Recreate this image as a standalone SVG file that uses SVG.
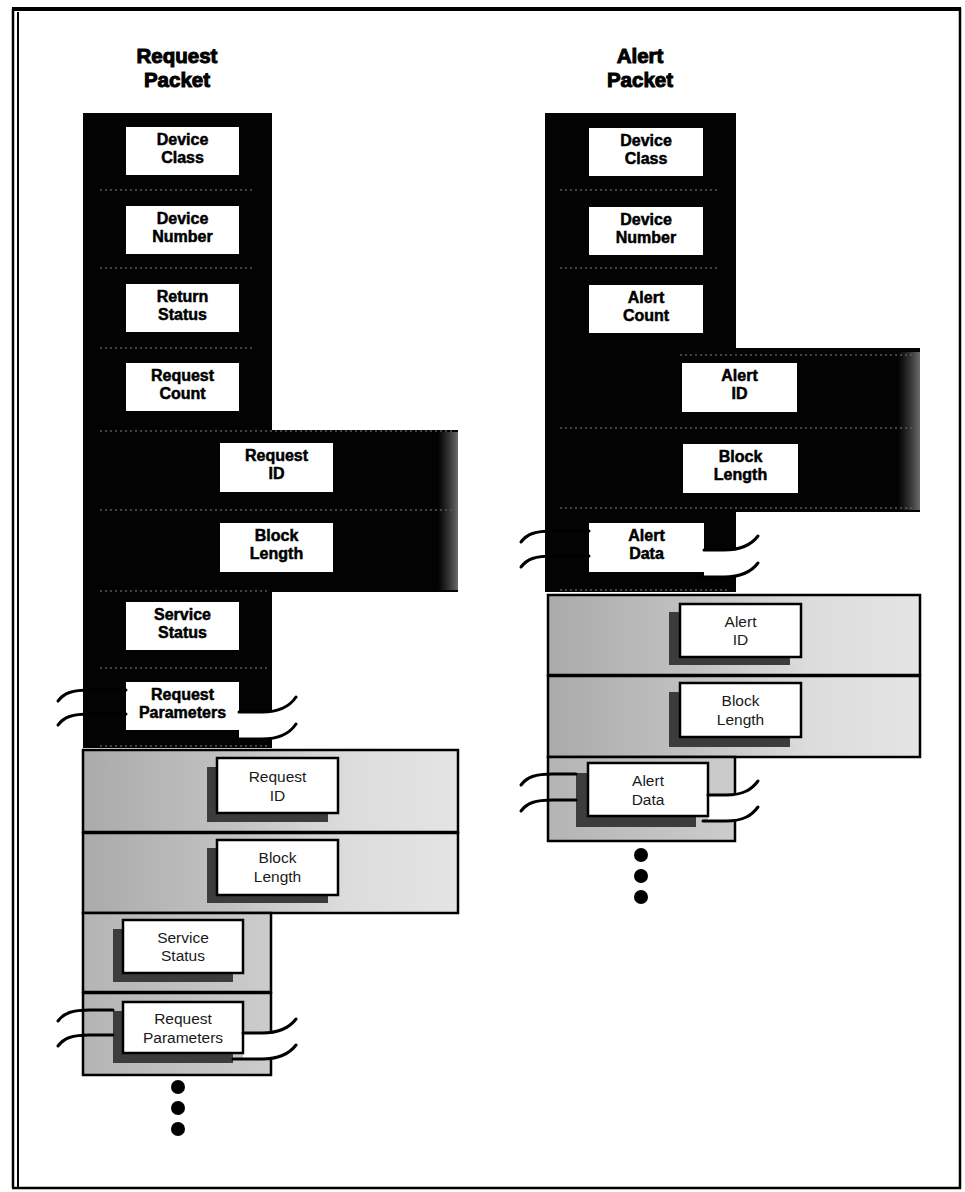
<svg xmlns="http://www.w3.org/2000/svg" width="965" height="1192" viewBox="0 0 965 1192">
<defs>
<style>
.bx{fill:#fff}
.lb{fill:#fff;stroke:#000;stroke-width:2.5}
.sh{fill:#3c3c3c}
.blk{fill:#030303}
.lt{stroke:#000;stroke-width:2.5}
.t{font-family:"Liberation Sans",Arial,sans-serif;font-size:16px;font-weight:bold;text-anchor:middle;fill:#000;stroke:#000;stroke-width:0.5}
.tl{font-family:"Liberation Sans",Arial,sans-serif;font-size:15.5px;font-weight:normal;text-anchor:middle;fill:#1a1a1a}
.ttl{font-family:"Liberation Sans",Arial,sans-serif;font-size:20.5px;font-weight:bold;text-anchor:middle;fill:#000;stroke:#000;stroke-width:1}
.brk{fill:none;stroke:#000;stroke-width:3;stroke-linecap:round}
.band{fill:#fff}
.sep{stroke:#5a5a5a;stroke-width:1.5;stroke-dasharray:2 3;fill:none}
.dot{fill:#000}
</style>
<linearGradient id="gLight" x1="0" y1="0" x2="1" y2="0">
<stop offset="0" stop-color="#aaaaaa"/>
<stop offset="0.4" stop-color="#c2c2c2"/>
<stop offset="0.7" stop-color="#dcdcdc"/>
<stop offset="1" stop-color="#e4e4e4"/>
</linearGradient>
<linearGradient id="gNarrow" x1="0" y1="0" x2="1" y2="0">
<stop offset="0" stop-color="#b4b4b4"/>
<stop offset="1" stop-color="#cccccc"/>
</linearGradient>
<linearGradient id="gEdge" x1="0" y1="0" x2="1" y2="0">
<stop offset="0" stop-color="#555" stop-opacity="0"/>
<stop offset="1" stop-color="#777" stop-opacity="0.9"/>
</linearGradient>
</defs>

<!-- frame -->
<g id="frame" fill="none" stroke="#000">
<line x1="13" y1="9" x2="13" y2="1188" stroke-width="2.5"/>
<line x1="18" y1="12" x2="18" y2="1188" stroke-width="2"/>
<line x1="12" y1="9" x2="961" y2="9" stroke-width="4"/>
<line x1="960" y1="8" x2="960" y2="1189" stroke-width="2.5"/>
<line x1="12" y1="1188" x2="961" y2="1188" stroke-width="2.5"/>
</g>

<!-- titles -->
<g id="title-request">
<text class="ttl" x="177" y="63">Request</text>
<text class="ttl" x="177" y="87">Packet</text>
</g>
<g id="title-alert">
<text class="ttl" x="640" y="63">Alert</text>
<text class="ttl" x="640" y="87">Packet</text>
</g>

<!-- column backgrounds -->
<g id="request-column">
<path class="blk" d="M83,113 H272 V430 H458 V592 H272 V748 H83 Z"/>
<rect x="438" y="432" width="20" height="158" fill="url(#gEdge)"/>
<path class="sep" d="M100,190 H255 M100,268 H255 M100,348 H255 M100,431 H455 M100,510 H455 M100,591 H270 M100,668 H270 M100,746 H270"/>
<rect x="83" y="750" width="375" height="82" fill="url(#gLight)" class="lt"/>
<rect x="83" y="833" width="375" height="80" fill="url(#gLight)" class="lt"/>
<rect x="83" y="913" width="188" height="79" fill="url(#gNarrow)" class="lt"/>
<rect x="83" y="993" width="188" height="82" fill="url(#gNarrow)" class="lt"/>
</g>
<g id="alert-column">
<path class="blk" d="M545,113 H736 V348 H920 V512 H736 V592 H545 Z"/>
<rect x="898" y="352" width="22" height="158" fill="url(#gEdge)"/>
<path class="sep" d="M560,190 H720 M560,268 H720 M680,355 H915 M560,428 H915 M560,508 H915 M560,590 H730"/>
<rect x="548" y="595" width="372" height="80" fill="url(#gLight)" class="lt"/>
<rect x="548" y="676" width="372" height="81" fill="url(#gLight)" class="lt"/>
<rect x="548" y="757" width="187" height="84" fill="url(#gNarrow)" class="lt"/>
</g>

<!-- break bands (white tears) -->
<g id="bands">
<path class="band" d="M239,712 L262,712 C280,712 290,706 296,697 L296,724 C290,733 280,739 262,739 L239,739 Z"/>
<path class="band" d="M243,1033 L262,1033 C280,1033 290,1027 296,1019 L296,1045 C290,1053 280,1059 262,1059 L243,1059 Z"/>
<path class="band" d="M704,550 L724,550 C742,550 752,544 758,536 L758,563 C752,571 742,577 724,577 L704,577 Z"/>
<path class="band" d="M708,795 L726,795 C744,795 752,789 758,781 L758,807 C752,815 744,821 726,821 L708,821 Z"/>
</g>

<!-- Request packet fields -->
<g id="req-device-class"><rect class="bx" x="126" y="127" width="113" height="48"/><text class="t" x="182.5" y="145">Device</text><text class="t" x="182.5" y="163">Class</text></g>
<g id="req-device-number"><rect class="bx" x="126" y="206" width="113" height="48"/><text class="t" x="182.5" y="224">Device</text><text class="t" x="182.5" y="242">Number</text></g>
<g id="req-return-status"><rect class="bx" x="126" y="284" width="113" height="48"/><text class="t" x="182.5" y="302">Return</text><text class="t" x="182.5" y="320">Status</text></g>
<g id="req-request-count"><rect class="bx" x="126" y="363" width="113" height="48"/><text class="t" x="182.5" y="381">Request</text><text class="t" x="182.5" y="399">Count</text></g>
<g id="req-request-id-1"><rect class="bx" x="220" y="443" width="113" height="49"/><text class="t" x="276.5" y="461">Request</text><text class="t" x="276.5" y="479">ID</text></g>
<g id="req-block-length-1"><rect class="bx" x="220" y="523" width="113" height="49"/><text class="t" x="276.5" y="541">Block</text><text class="t" x="276.5" y="559">Length</text></g>
<g id="req-service-status-1"><rect class="bx" x="126" y="602" width="113" height="48"/><text class="t" x="182.5" y="620">Service</text><text class="t" x="182.5" y="638">Status</text></g>
<g id="req-request-parameters-1"><rect class="bx" x="126" y="682" width="113" height="48"/><text class="t" x="182.5" y="700">Request</text><text class="t" x="182.5" y="718">Parameters</text></g>

<g id="req-request-id-2"><rect class="sh" x="207" y="767" width="121" height="55"/><rect class="lb" x="217" y="758" width="121" height="55"/><text class="tl" x="277.5" y="782">Request</text><text class="tl" x="277.5" y="801">ID</text></g>
<g id="req-block-length-2"><rect class="sh" x="207" y="848" width="121" height="55"/><rect class="lb" x="217" y="840" width="121" height="55"/><text class="tl" x="277.5" y="863">Block</text><text class="tl" x="277.5" y="882">Length</text></g>
<g id="req-service-status-2"><rect class="sh" x="113" y="929" width="120" height="53"/><rect class="lb" x="123" y="920" width="120" height="53"/><text class="tl" x="183" y="943">Service</text><text class="tl" x="183" y="961">Status</text></g>
<g id="req-request-parameters-2"><rect class="sh" x="113" y="1011" width="120" height="52"/><rect class="lb" x="123" y="1002" width="120" height="51"/><text class="tl" x="183" y="1024">Request</text><text class="tl" x="183" y="1043">Parameters</text></g>

<!-- Alert packet fields -->
<g id="alert-device-class"><rect class="bx" x="589" y="128" width="114" height="48"/><text class="t" x="646" y="146">Device</text><text class="t" x="646" y="164">Class</text></g>
<g id="alert-device-number"><rect class="bx" x="589" y="207" width="114" height="48"/><text class="t" x="646" y="225">Device</text><text class="t" x="646" y="243">Number</text></g>
<g id="alert-alert-count"><rect class="bx" x="589" y="285" width="114" height="48"/><text class="t" x="646" y="303">Alert</text><text class="t" x="646" y="321">Count</text></g>
<g id="alert-alert-id-1"><rect class="bx" x="682" y="363" width="115" height="49"/><text class="t" x="739.5" y="381">Alert</text><text class="t" x="739.5" y="399">ID</text></g>
<g id="alert-block-length-1"><rect class="bx" x="683" y="444" width="115" height="49"/><text class="t" x="740.5" y="462">Block</text><text class="t" x="740.5" y="480">Length</text></g>
<g id="alert-alert-data-1"><rect class="bx" x="589" y="523" width="115" height="49"/><text class="t" x="646.5" y="541">Alert</text><text class="t" x="646.5" y="559">Data</text></g>

<g id="alert-alert-id-2"><rect class="sh" x="669" y="612" width="121" height="53"/><rect class="lb" x="680" y="604" width="121" height="53"/><text class="tl" x="740.5" y="627">Alert</text><text class="tl" x="740.5" y="645">ID</text></g>
<g id="alert-block-length-2"><rect class="sh" x="669" y="692" width="121" height="55"/><rect class="lb" x="680" y="683" width="121" height="54"/><text class="tl" x="740.5" y="706">Block</text><text class="tl" x="740.5" y="725">Length</text></g>
<g id="alert-alert-data-2"><rect class="sh" x="576" y="773" width="120" height="54"/><rect class="lb" x="588" y="763" width="120" height="53"/><text class="tl" x="648" y="786">Alert</text><text class="tl" x="648" y="805">Data</text></g>

<!-- connectors: break marks -->
<g id="connectors">
<path class="brk" d="M58,701 C64,693 72,690 90,690 L126,690 M58,725 C64,717 72,714 90,714 L126,714"/>
<path class="brk" d="M239,712 L262,712 C280,712 290,706 296,697 M239,739 L262,739 C280,739 290,733 296,724"/>
<path class="brk" d="M58,1021 C64,1013 72,1010 90,1010 L113,1010 M58,1046 C64,1038 72,1035 90,1035 L113,1035"/>
<path class="brk" d="M243,1033 L262,1033 C280,1033 290,1027 296,1019 M233,1059 L262,1059 C280,1059 290,1053 296,1045"/>
<path class="brk" d="M521,542 C527,534 535,531 553,531 L589,531 M521,567 C527,559 535,556 553,556 L589,556"/>
<path class="brk" d="M704,550 L724,550 C742,550 752,544 758,536 M697,577 L724,577 C742,577 752,571 758,563"/>
<path class="brk" d="M521,785 C527,777 535,774 553,774 L576,774 M521,811 C527,803 535,800 553,800 L576,800"/>
<path class="brk" d="M708,795 L726,795 C744,795 752,789 758,781 M703,821 L726,821 C744,821 752,815 758,807"/>
</g>

<!-- continuation dots -->
<g id="req-dots">
<circle class="dot" cx="178" cy="1087" r="7"/>
<circle class="dot" cx="178" cy="1108" r="7"/>
<circle class="dot" cx="178" cy="1129" r="7"/>
</g>
<g id="alert-dots">
<circle class="dot" cx="641" cy="855" r="7"/>
<circle class="dot" cx="641" cy="876" r="7"/>
<circle class="dot" cx="641" cy="897" r="7"/>
</g>
</svg>
